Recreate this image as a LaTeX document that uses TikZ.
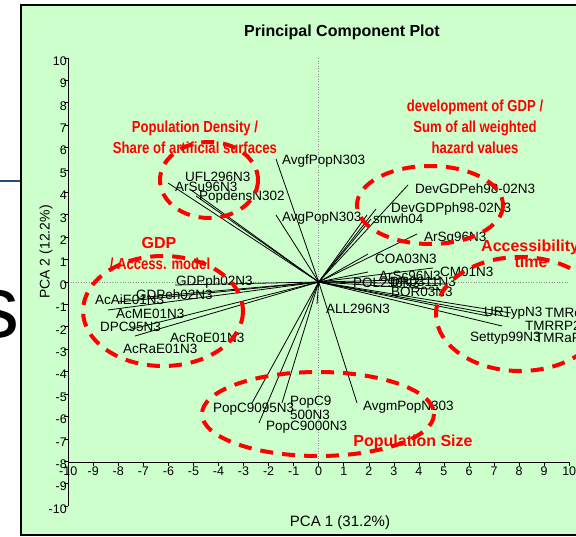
\documentclass[tikz,border=0pt]{standalone}
\usepackage{fontspec}
\setmainfont{Liberation Sans}
\newfontfamily\narrowfont[FakeStretch=0.82]{Liberation Sans}
\definecolor{panelgreen}{HTML}{CCFFCC}
\definecolor{slideblue}{HTML}{1F4E79}
\definecolor{hzred}{HTML}{FF0000}
\begin{document}
\begin{tikzpicture}[x=1pt,y=-1pt,
  lbl/.style={font=\fontsize{13.5}{14}\selectfont, anchor=west, inner sep=0pt, text=black},
  vec/.style={draw=black, line width=0.8pt},
  hz/.style={draw=hzred, line width=4pt, dash pattern=on 13pt off 9pt},
  narrowred/.style={text=hzred, font=\narrowfont\bfseries\fontsize{16}{21}\selectfont, align=center, inner sep=0pt},
  boldred/.style={text=hzred, font=\bfseries\fontsize{16}{16}\selectfont, align=center, inner sep=0pt},
  tick/.style={draw=black, line width=0.6pt},
  ticklbl/.style={font=\fontsize{12.5}{13}\selectfont, inner sep=0pt},
  guide/.style={draw=black!45, line width=0.6pt, dotted}
]
\useasboundingbox (0,0) rectangle (576,537);
\clip (0,0) rectangle (576,537);
% slide background fragments
\node[anchor=east, inner sep=0pt, font=\fontsize{88}{88}\selectfont] (bigs) at (20,314) {s};
\draw[slideblue, line width=2pt] (0,181) -- (21,181);
% panel
\fill[panelgreen] (21,5) rectangle (600,535);
\draw[line width=1.5pt] (600,5) -- (21,5) -- (21,535) -- (600,535);
% title
\node[font=\bfseries\fontsize{16}{16}\selectfont] (title) at (342,32) {Principal Component Plot};
% guides
\draw[guide] (318.7,58) -- (318.7,462);
\draw[guide] (68,282) -- (569,282);
% axes
\draw[tick] (68,58) -- (68,506);
\draw[tick] (68,462) -- (569,462);
\foreach \v in {-10,...,10} {
  \draw[tick] (68,{282-22.4*\v}) -- ++(-4,0);
  \node[ticklbl, anchor=east] (yl\v) at (67,{285-22.4*\v}) {\v};
}
\foreach \u in {-10,...,10} {
  \draw[tick] ({318.7+25.05*\u},462) -- ++(0,4);
  \node[ticklbl, anchor=north] (xl\u) at ({318.7+25.05*\u},467) {\u};
}
\node[font=\fontsize{15}{15}\selectfont] (xtitle) at (340,523) {PCA 1 (31.2\%)};
\node[font=\fontsize{14}{14}\selectfont, rotate=90] (ytitle) at (46,252) {PCA 2 (12.2\%)};
% origin
\coordinate (O) at (318.7,282);
% loading vectors (free ends)
\coordinate (e1) at (168,183);
\coordinate (e2) at (191,190);
\coordinate (e3) at (196,196);
\coordinate (e4) at (276,159);
\coordinate (e5) at (276,215);
\coordinate (e6) at (408,185);
\coordinate (e7) at (376,209);
\coordinate (e8) at (367,215);
\coordinate (e9) at (371,219);
\coordinate (e10) at (417,234);
\coordinate (e11) at (368,254);
\coordinate (e12) at (368,272);
\coordinate (e13) at (433,268);
\coordinate (e14) at (440,279);
\coordinate (e15) at (448,284);
\coordinate (e16) at (445,290);
\coordinate (e17) at (511,313);
\coordinate (e18) at (509,317);
\coordinate (e19) at (488,316);
\coordinate (e20) at (502,326);
\coordinate (e21) at (317,304);
\coordinate (e22) at (252,403);
\coordinate (e23) at (259,423);
\coordinate (e24) at (282,403);
\coordinate (e25) at (357,403);
\coordinate (e26) at (175,285);
\coordinate (e27) at (147,297);
\coordinate (e28) at (118,302);
\coordinate (e29) at (108,310);
\coordinate (e30) at (128,330);
\coordinate (e31) at (135,336);
\foreach \i in {1,...,31} { \draw[vec] (O) -- (e\i); }
% variable labels
\node[lbl] (l1) at (185,177) {UFL296N3};
\node[lbl] (l2) at (175,187) {ArSu96N3};
\node[lbl] (l3) at (199,197) {PopdensN302};
\node[lbl] (l4) at (282,161) {AvgfPopN303};
\node[lbl] (l5) at (282,218) {AvgPopN303};
\node[lbl] (l6) at (415,189) {DevGDPeh98-02N3};
\node[lbl] (l7) at (391,209) {DevGDPph98-02N3};
\node[lbl] (l8) at (373,219) {smwh04};
\node[lbl] (l9) at (424,238) {ArSg96N3};
\node[lbl] (l10) at (375,259) {COA03N3};
\node[lbl] (l11) at (440,272) {CM01N3};
\node[lbl] (l12) at (379,276) {ArSc96N3};
\node[lbl] (l13) at (353,283) {POL296N3};
\node[lbl] (l14) at (390,282) {DR0311N3};
\node[lbl] (l15) at (391,292) {BOR03N3};
\node[lbl] (l16) at (326,309) {ALL296N3};
\node[lbl] (l17) at (484,313) {URTypN3};
\node[lbl] (l18) at (545,313) {TMRoP297};
\node[lbl] (l19) at (525,326) {TMRRP297};
\node[lbl] (l20) at (470,338) {Settyp99N3};
\node[lbl] (l21) at (535,338) {TMRaP297};
\node[lbl] (l22) at (213,409) {PopC9095N3};
\node[lbl, align=left] (l23) at (290,408) {PopC9\\500N3};
\node[lbl] (l24) at (266,427) {PopC9000N3};
\node[lbl] (l25) at (363,407) {AvgmPopN303};
\node[lbl] (l26) at (176,282) {GDPph02N3};
\node[lbl] (l27) at (136,295) {GDPeh02N3};
\node[lbl] (l28) at (95,300) {AcAiE01N3};
\node[lbl] (l29) at (116,314) {AcME01N3};
\node[lbl] (l30) at (100,327) {DPC95N3};
\node[lbl] (l31) at (170,338) {AcRoE01N3};
\node[lbl] (l32) at (123,349) {AcRaE01N3};
% cluster ellipses
\draw[hz] (209,180) ellipse [x radius=49, y radius=38];
\draw[hz] (430,205) ellipse [x radius=73, y radius=39];
\draw[hz] (163,311) ellipse [x radius=80, y radius=55];
\draw[hz] (520,314) ellipse [x radius=84, y radius=57];
\draw[hz] (318,414) ellipse [x radius=116, y radius=42];
% cluster captions
\node[narrowred] (c1) at (195,137) {Population Density /\\Share of artificial surfaces};
\node[narrowred] (c2) at (475,127) {development of GDP /\\Sum of all weighted\\hazard values};
\node[boldred] (c3) at (159,243) {GDP};
\node[narrowred] (c4) at (160,264) {/ Access. model};
\node[boldred, anchor=west] (c5) at (481,247) {Accessibility};
\node[boldred] (c6) at (531,262) {time};
\node[boldred] (c7) at (413,442) {Population Size};
\end{tikzpicture}
\end{document}
